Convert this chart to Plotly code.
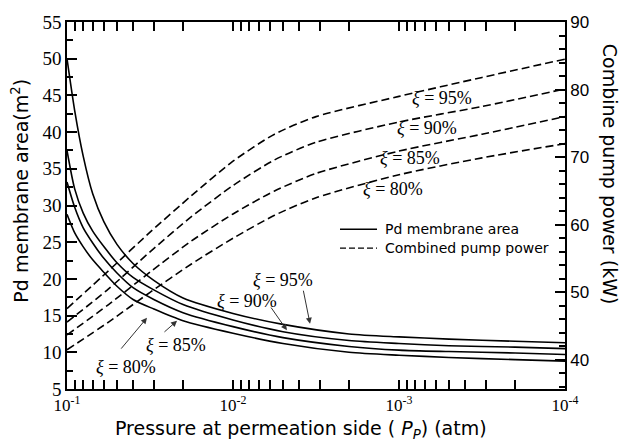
import plotly.graph_objects as go

# ---------------- data ----------------
# Pd membrane area (m^2), left axis
p_area = [0.1, 0.09, 0.08, 0.07, 0.06, 0.05, 0.04, 0.03, 0.02, 0.01,
          0.005, 0.002, 0.001, 0.0005, 0.0002, 0.0001]
area_95 = [50.0, 43.0, 36.8, 31.6, 27.8, 24.7, 22.1, 19.8, 17.4, 15.3,
           13.8, 12.5, 12.1, 11.8, 11.5, 11.3]
area_90 = [37.5, 32.3, 29.0, 26.5, 24.4, 22.2, 20.2, 18.5, 16.5, 14.4,
           12.8, 11.6, 11.2, 10.9, 10.7, 10.5]
area_85 = [33.2, 29.8, 27.0, 24.9, 22.8, 20.8, 18.8, 17.2, 15.4, 13.5,
           12.0, 10.8, 10.3, 10.1, 9.9, 9.7]
area_80 = [28.8, 26.3, 24.4, 22.6, 20.9, 19.0, 17.2, 15.9, 14.3, 12.6,
           11.2, 10.0, 9.6, 9.3, 9.0, 8.8]

# Combined pump power (kW), right axis
p_power = [0.1, 0.0562, 0.0316, 0.0178, 0.01, 0.00562, 0.00316,
           0.001, 0.000316, 0.0001]
power_95 = [47.6, 53.2, 58.9, 64.3, 69.4, 73.4, 76.0, 79.0, 81.8, 84.5]
power_90 = [45.6, 50.5, 56.0, 61.2, 65.8, 69.6, 72.2, 75.2, 77.5, 80.1]
power_85 = [43.7, 48.2, 53.0, 57.6, 61.6, 65.0, 67.6, 70.9, 73.4, 76.0]
power_80 = [41.5, 45.6, 50.0, 54.2, 58.0, 61.4, 64.0, 67.4, 69.9, 72.0]

xi_labels = ["95%", "90%", "85%", "80%"]
x_decades = [0.1, 0.01, 0.001, 0.0001]
x_tick_labels = ["10<sup>-1</sup>", "10<sup>-2</sup>", "10<sup>-3</sup>", "10<sup>-4</sup>"]
left_ticks = [5, 10, 15, 20, 25, 30, 35, 40, 45, 50, 55]
right_ticks = [40, 50, 60, 70, 80, 90]
legend_names = ["Pd membrane area", "Combined pump power"]

# ---------------- figure ----------------
fig = go.Figure()
LW = 1.6
areas = [area_95, area_90, area_85, area_80]
powers = [power_95, power_90, power_85, power_80]
for lab, a in zip(xi_labels, areas):
    fig.add_trace(go.Scatter(
        x=p_area, y=a, mode="lines", yaxis="y",
        line=dict(color="black", width=LW, shape="spline", smoothing=0.7),
        name=legend_names[0] + " ξ=" + lab, showlegend=False))
for lab, pw in zip(xi_labels, powers):
    fig.add_trace(go.Scatter(
        x=p_power, y=pw, mode="lines", yaxis="y2",
        line=dict(color="black", width=LW, dash="8px,4px", shape="spline", smoothing=0.7),
        name=legend_names[1] + " ξ=" + lab, showlegend=False))

# x ticks: decades labelled, intermediate positions unlabelled
tickvals, ticktext = [x_decades[0]], [x_tick_labels[0]]
for dec, lab in zip(x_decades[1:], x_tick_labels[1:]):
    for k in range(9, 1, -1):
        tickvals.append(k * dec)
        ticktext.append("")
    tickvals.append(dec)
    ticktext.append(lab)

serif = "Liberation Serif, Times New Roman, serif"
sans = "DejaVu Sans, Verdana, sans-serif"
TW = 1.5

fig.update_layout(
    width=622, height=445,
    margin=dict(l=67, r=57, t=19, b=56),
    plot_bgcolor="white", paper_bgcolor="white",
    showlegend=False,
    xaxis=dict(type="log", range=[-1, -4], tickmode="array",
               tickvals=tickvals, ticktext=ticktext, tickangle=0,
               ticks="inside", ticklen=9, tickwidth=TW, tickcolor="black",
               showline=True, linewidth=1.6, linecolor="black", mirror="ticks",
               showgrid=False, zeroline=False,
               tickfont=dict(family=serif, size=17, color="black")),
    yaxis=dict(range=[5, 55], tickmode="array", tickvals=left_ticks,
               ticks="inside", ticklen=10, tickwidth=TW, tickcolor="black",
               minor=dict(dtick=2.5, tick0=5, ticks="inside", ticklen=6,
                          tickwidth=TW, tickcolor="black", showgrid=False),
               showline=True, linewidth=1.6, linecolor="black",
               showgrid=False, zeroline=False,
               tickfont=dict(family=serif, size=19, color="black")),
    yaxis2=dict(range=[35.7, 90], overlaying="y", side="right", tickmode="array",
                tickvals=right_ticks,
                ticks="inside", ticklen=10, tickwidth=TW, tickcolor="black",
                minor=dict(dtick=2, tick0=40, ticks="inside", ticklen=6,
                           tickwidth=TW, tickcolor="black", showgrid=False),
                showline=True, linewidth=1.6, linecolor="black",
                showgrid=False, zeroline=False,
                tickfont=dict(family="Liberation Sans, Arial, sans-serif", size=17, color="black")),
)

# axis titles
fig.add_annotation(text="Pd membrane area(m<sup>2</sup>)", xref="paper", yref="paper",
                   x=-0.0944, y=0.5405, xanchor="center", yanchor="middle",
                   textangle=-90, showarrow=False,
                   font=dict(family=sans, size=19, color="black"))
fig.add_annotation(text="Combine pump power (kW)", xref="paper", yref="paper",
                   x=1.0904, y=0.5865, xanchor="center", yanchor="middle",
                   textangle=90, showarrow=False,
                   font=dict(family=sans, size=19, color="black"))
fig.add_annotation(text="Pressure at permeation side ( <i>P<sub>P</sub></i>) (atm)",
                   xref="paper", yref="paper", x=0.47, y=-0.1108,
                   xanchor="center", yanchor="middle", showarrow=False,
                   font=dict(family=sans, size=19, color="black"))

# legend (drawn)
leg_rows = [(0.4351, "solid", legend_names[0]), (0.3838, "dash", legend_names[1])]
for ly, dash, name in leg_rows:
    fig.add_shape(type="line", xref="paper", yref="paper",
                  x0=0.5482, x1=0.6225, y0=ly, y1=ly,
                  line=dict(color="black", width=1.4,
                            dash="solid" if dash == "solid" else "6px,3px"))
    fig.add_annotation(text=name, xref="paper", yref="paper", x=0.6345, y=ly,
                       xanchor="left", yanchor="middle", showarrow=False,
                       font=dict(family=sans, size=14, color="black"))

lab_font = dict(family=serif, size=18, color="black")
# labels on solid curves (log10 x, left-axis y)
solid_lab_pos = [(-2.301, 19.9), (-2.084, 17.0), (-1.657, 11.0), (-1.355, 8.0)]
solid_arrows = [((-2.422, 18.6), (-2.464, 13.9)),
                ((-2.223, 16.3), (-2.325, 13.0)),
                ((-1.578, 12.6), (-1.663, 14.3)),
                ((-1.319, 10.3), (-1.482, 14.7))]
for lab, (lx, ly), ((tx, ty), (hx, hy)) in zip(xi_labels, solid_lab_pos, solid_arrows):
    fig.add_annotation(text="<i>ξ</i> = " + lab, x=lx, y=ly, xref="x", yref="y",
                       xanchor="center", yanchor="middle",
                       showarrow=False, font=lab_font)
    fig.add_annotation(text="", x=hx, y=hy, ax=tx, ay=ty, xref="x", yref="y",
                       axref="x", ayref="y", showarrow=True, arrowhead=2,
                       arrowsize=1.2, arrowwidth=1, arrowcolor="#333")

# labels on dashed curves
dashed_lab_pos = [(-3.259, 44.6), (-3.169, 40.5), (-3.066, 36.5), (-2.964, 32.2)]
for lab, (lx, ly) in zip(xi_labels, dashed_lab_pos):
    fig.add_annotation(text="<i>ξ</i> = " + lab, x=lx, y=ly, xref="x", yref="y",
                       xanchor="center", yanchor="middle",
                       showarrow=False, font=lab_font)

fig.write_html("out.html")
